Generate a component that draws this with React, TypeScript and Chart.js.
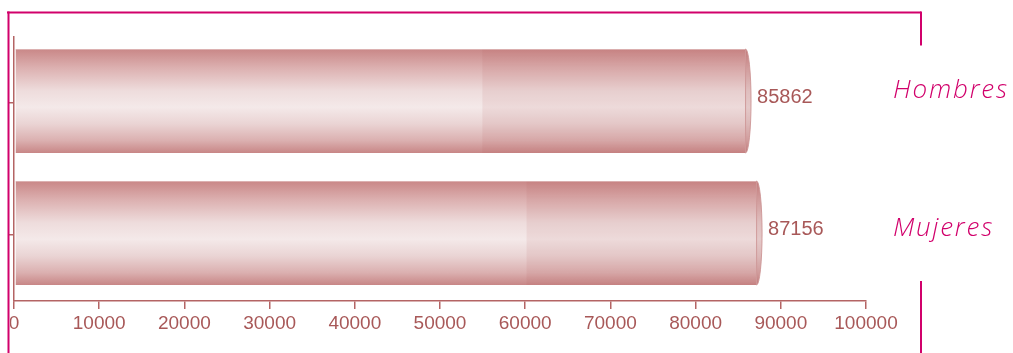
import React, { useEffect, useRef } from "react";
import { Chart, registerables } from "chart.js";

Chart.register(...registerables);

// ---- data ----
const categories: string[] = ["Hombres", "Mujeres"];
const values: number[] = [85862, 87156];
const xMin = 0;
const xMax = 100000;
const xStep = 10000;

// ---- styles ----
const MAGENTA = "#d1006b";
const AXIS = "#b46464";
const TEXT = "#a85858";
const SHADE_FROM = [0.64, 0.69];
const LABEL_DY = [-12, -6];
const BAR_DY = -2;

const cylinderPlugin = {
  id: "cylinderBars",
  afterDatasetsDraw(chart: any) {
    const ctx: CanvasRenderingContext2D = chart.ctx;
    const meta = chart.getDatasetMeta(0);
    meta.data.forEach((bar: any, i: number) => {
      const p = bar.getProps(["x", "y", "base", "height"], true);
      const x = p.x;
      const y = p.y + BAR_DY;
      const h = p.height;
      const top = y - h / 2;
      const bottom = y + h / 2;
      const left = p.base + 1;
      const g = ctx.createLinearGradient(0, top, 0, bottom);
      g.addColorStop(0, "#c98787");
      g.addColorStop(0.18, "#dcb0b0");
      g.addColorStop(0.4, "#eedcdc");
      g.addColorStop(0.56, "#f4e9e9");
      g.addColorStop(0.72, "#ead4d4");
      g.addColorStop(0.88, "#dbb0b0");
      g.addColorStop(1, "#c88686");
      ctx.save();
      ctx.fillStyle = g;
      ctx.fillRect(left, top, x - left, h);
      const sx = p.base + (x - p.base) * SHADE_FROM[i];
      ctx.fillStyle = "rgba(175, 85, 85, 0.10)";
      ctx.fillRect(sx, top, x - sx, h);
      // thin highlight on top edge
      ctx.fillStyle = "rgba(255,255,255,0.35)";
      ctx.fillRect(left, top, x - left, 1);
      // end cap
      ctx.beginPath();
      ctx.ellipse(x, y, 5.5, h / 2, 0, -Math.PI / 2, Math.PI / 2);
      ctx.closePath();
      ctx.fillStyle = g;
      ctx.fill();
      ctx.fillStyle = "rgba(175, 85, 85, 0.22)";
      ctx.fill();
      ctx.strokeStyle = "rgba(205, 150, 150, 0.9)";
      ctx.lineWidth = 1;
      ctx.stroke();
      // value label
      ctx.fillStyle = TEXT;
      ctx.font = '20px "Liberation Sans", Arial, sans-serif';
      ctx.textBaseline = "middle";
      ctx.textAlign = "left";
      ctx.fillText(String(values[i]), x + 11.5, y - 4);
      ctx.restore();
    });
  },
  afterDraw(chart: any) {
    const ctx: any = chart.ctx;
    const ys = chart.scales.y;
    ctx.save();
    // category labels on the right
    ctx.fillStyle = MAGENTA;
    ctx.font = 'italic 300 26px "Open Sans", "Noto Sans", sans-serif';
    ctx.textBaseline = "middle";
    ctx.textAlign = "left";
    ctx.letterSpacing = "1.8px";
    categories.forEach((c, i) => {
      ctx.fillText(c, 893, ys.getPixelForValue(i) + LABEL_DY[i]);
    });
    ctx.letterSpacing = "0px";
    // frame
    ctx.fillStyle = "#ffffff";
    ctx.fillRect(0, 310, 10, 43);
    ctx.fillStyle = MAGENTA;
    ctx.fillRect(7, 11.5, 914, 2);
    ctx.fillRect(7.5, 11.5, 2, 342);
    ctx.fillRect(920, 11.5, 2, 34);
    ctx.fillRect(920, 281, 2, 72);
    ctx.restore();
  },
};

export default function App() {
  const ref = useRef<HTMLCanvasElement | null>(null);
  useEffect(() => {
    if (!ref.current) return;
    const chart = new Chart(ref.current, {
      type: "bar",
      data: {
        labels: categories,
        datasets: [
          {
            data: values,
            backgroundColor: "rgba(0,0,0,0)",
            borderWidth: 0,
            barThickness: 104,
          },
        ],
      },
      options: {
        indexAxis: "y",
        responsive: false,
        animation: false,
        devicePixelRatio: 1,
        layout: { padding: { left: 8, top: 37, right: 147, bottom: 0 } },
        plugins: { legend: { display: false }, tooltip: { enabled: false } },
        scales: {
          x: {
            type: "linear",
            min: xMin,
            max: xMax,
            afterFit: (s: any) => {
              s.height = 52;
            },
            ticks: {
              stepSize: xStep,
              color: TEXT,
              padding: 3,
              maxRotation: 0,
              autoSkip: false,
              font: { family: '"Liberation Sans", Arial, sans-serif', size: 19 },
              callback: (v: any) => String(v),
            },
            grid: {
              drawOnChartArea: false,
              drawTicks: true,
              tickLength: 8,
              color: AXIS,
              tickColor: AXIS,
              lineWidth: 1.5,
            },
            border: { display: true, color: AXIS, width: 1.5 },
          },
          y: {
            type: "category",
            afterFit: (s: any) => {
              s.width = 6;
            },
            ticks: { display: false },
            grid: {
              drawOnChartArea: false,
              drawTicks: true,
              tickLength: 6,
              offset: false,
              color: AXIS,
              tickColor: AXIS,
              lineWidth: 1.5,
            },
            border: { display: true, color: AXIS, width: 1.5 },
          },
        },
      },
      plugins: [cylinderPlugin],
    } as any);
    return () => chart.destroy();
  }, []);
  return (
    <div style={{ position: "absolute", left: 0, top: 0, width: 1013, height: 353, background: "#fff" }}>
      <canvas ref={ref} width={1013} height={353} style={{ display: "block", width: 1013, height: 353 }} />
    </div>
  );
}
